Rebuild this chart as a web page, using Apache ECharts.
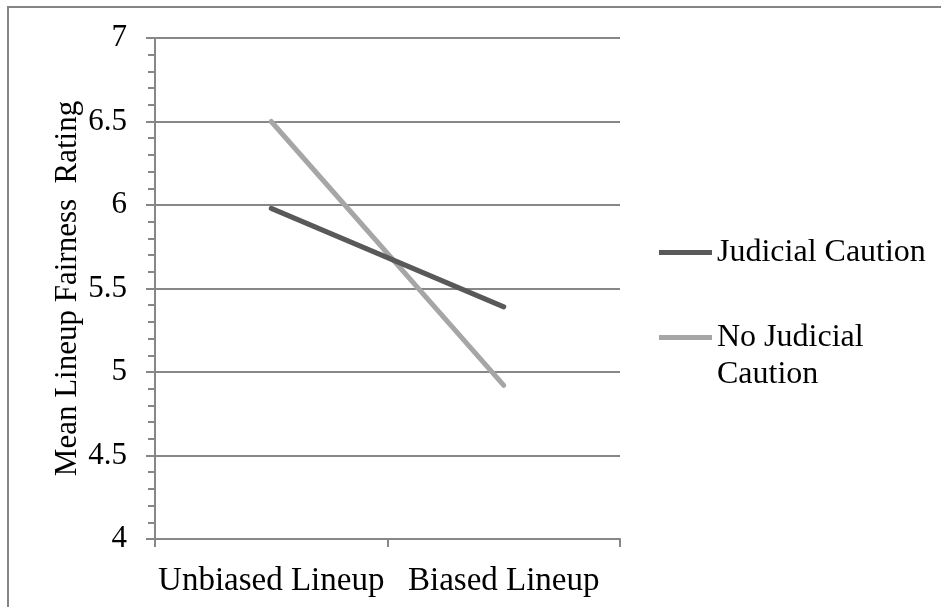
<!DOCTYPE html>
<html>
<head>
<meta charset="utf-8">
<script src="https://cdn.jsdelivr.net/npm/echarts@6/dist/echarts.min.js"></script>
<style>html,body{margin:0;padding:0;background:#fff;}#c{width:941px;height:607px;}</style>
</head>
<body>
<div id="c"></div>
<script>
const categories = ['Unbiased Lineup', 'Biased Lineup'];
const judicialCaution = [5.98, 5.39];
const noJudicialCaution = [6.50, 4.92];
const yTicks = {min: 4, max: 7, interval: 0.5};
const seriesNames = ['Judicial Caution', 'No Judicial Caution'];

const FONT = '"Liberation Serif", "Times New Roman", serif';
const chart = echarts.init(document.getElementById('c'), null, {renderer: 'canvas'});
chart.setOption({
  animation: false,
  backgroundColor: '#fff',
  graphic: [{
    type: 'rect', shape: {x: 8, y: 7, width: 2000, height: 2000},
    style: {fill: 'none', stroke: '#858585', lineWidth: 2}, silent: true, z: -1
  }],
  grid: {left: 155, right: 321, top: 38, bottom: 68, containLabel: false},
  legend: {
    orient: 'vertical', left: 659, top: 234, padding: 0, itemWidth: 53, itemHeight: 5, itemGap: 11,
    icon: 'rect',
    data: seriesNames,
    textStyle: {fontFamily: FONT, fontSize: 32, color: '#000', lineHeight: 37},
    formatter: function (n) { return n === 'No Judicial Caution' ? ' \nNo Judicial\nCaution' : n; }
  },
  xAxis: {
    type: 'category', data: categories, boundaryGap: true,
    axisLine: {lineStyle: {color: '#878787', width: 2}},
    axisTick: {show: true, length: 8, interval: 0, alignWithLabel: false, lineStyle: {color: '#878787', width: 2}},
    axisLabel: {fontFamily: FONT, fontSize: 33, color: '#000', margin: 26, interval: 0},
    splitLine: {show: false}
  },
  yAxis: {
    type: 'value', min: yTicks.min, max: yTicks.max, interval: yTicks.interval,
    name: 'Mean Lineup Fairness  Rating', nameLocation: 'middle', nameGap: 72, nameRotate: 90,
    nameTextStyle: {fontFamily: FONT, fontSize: 31, color: '#000'},
    axisLine: {show: true, lineStyle: {color: '#878787', width: 2}},
    axisTick: {show: true, length: 9, lineStyle: {color: '#878787', width: 2}},
    minorTick: {show: true, splitNumber: 5, length: 7, lineStyle: {color: '#878787', width: 2}},
    axisLabel: {fontFamily: FONT, fontSize: 31, color: '#000', margin: 28},
    splitLine: {show: true, lineStyle: {color: '#878787', width: 2}}
  },
  series: [
    {name: seriesNames[0], type: 'line', data: judicialCaution, showSymbol: false, symbol: 'none',
     itemStyle: {color: '#595959'}, lineStyle: {color: '#595959', width: 5, cap: 'round'}, z: 3},
    {name: seriesNames[1], type: 'line', data: noJudicialCaution, showSymbol: false, symbol: 'none',
     itemStyle: {color: '#a6a6a6'}, lineStyle: {color: '#a6a6a6', width: 5, cap: 'round'}, z: 2}
  ]
});
</script>
</body>
</html>
